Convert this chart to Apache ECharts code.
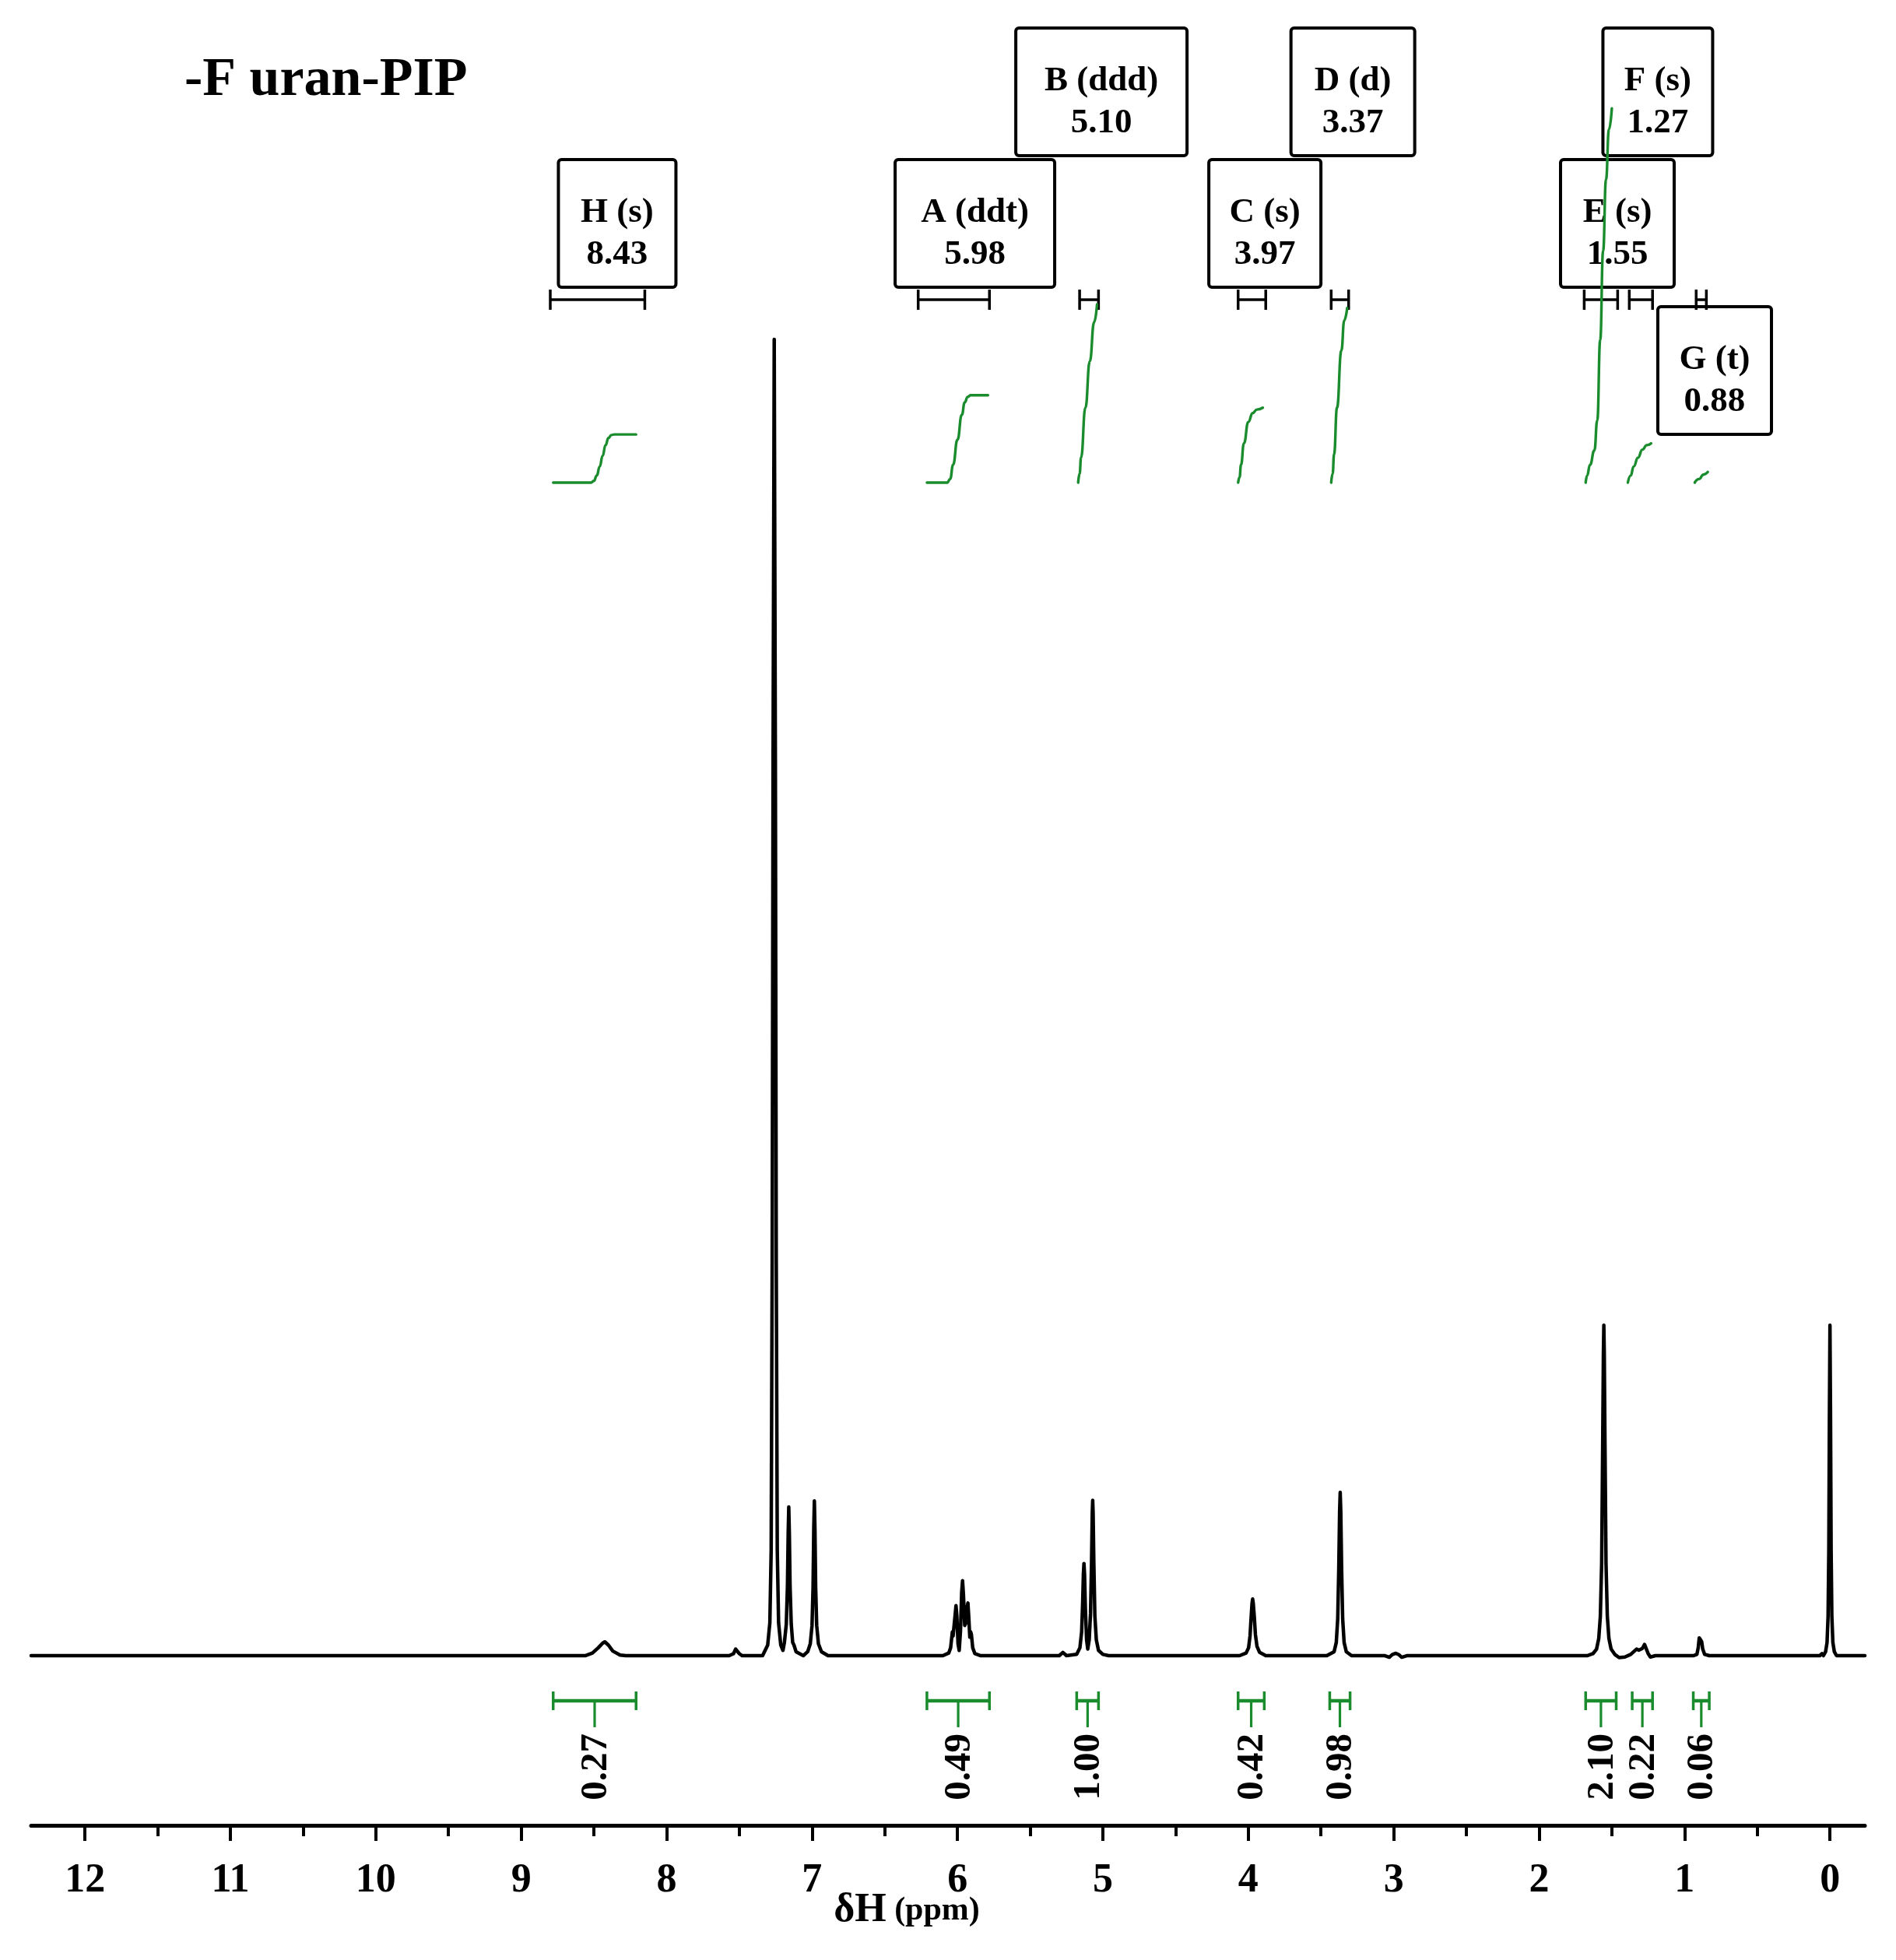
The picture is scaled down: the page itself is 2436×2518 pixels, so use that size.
<!DOCTYPE html>
<html>
<head>
<meta charset="utf-8">
<script src="https://cdn.jsdelivr.net/npm/echarts@6/dist/echarts.min.js"></script>
<style>
html,body{margin:0;padding:0;background:#fff;}
#chart{width:2436px;height:2518px;}
</style>
</head>
<body>
<div id="chart"></div>
<script>
// ---------- DATA ----------
const tickLabels = [0,1,2,3,4,5,6,7,8,9,10,11,12];
const minorTicks = [0.5,1.5,2.5,3.5,4.5,5.5,6.5,7.5,8.5,9.5,10.5,11.5];

// 1H spectrum: [ppm, intensity] (7.26 peak = 100)
const spectrum = [
[12.37,0],[8.56,0],[8.51,0.2],[8.47,0.6],[8.44,0.95],[8.425,1.05],[8.40,0.8],[8.37,0.35],[8.32,0.05],[8.28,0],
[7.57,0],[7.54,0.15],[7.525,0.5],[7.515,0.55],[7.50,0.15],[7.48,0],
[7.34,0],[7.305,0.8],[7.29,2.5],[7.281,8],[7.274,30],[7.268,68],[7.26,100],[7.252,68],[7.246,30],[7.239,8],[7.23,2.5],[7.215,0.8],[7.2,0.4],
[7.19,1.0],[7.177,2.4],[7.169,5.3],[7.164,9.3],[7.16,11.3],[7.156,9.3],[7.151,5.3],[7.143,2.4],[7.133,1.0],[7.124,0.8],[7.11,0.3],[7.06,0],
[7.03,0.3],[7.012,0.9],[7.0,2.3],[6.993,5.2],[6.988,9.7],[6.984,11.75],[6.98,9.7],[6.975,5.2],[6.968,2.3],[6.956,0.9],[6.935,0.3],[6.89,0],
[6.10,0],[6.06,0.2],[6.047,0.6],[6.04,1.3],[6.035,1.8],[6.03,1.5],[6.024,1.6],[6.016,3.1],[6.01,3.8],[6.004,3.0],[5.996,0.9],[5.988,0.4],[5.979,1.9],[5.971,4.8],[5.965,5.7],[5.959,4.7],[5.95,2.3],[5.941,2.5],[5.933,3.7],[5.928,4.0],[5.922,2.9],[5.915,1.4],[5.909,1.8],[5.904,1.6],[5.895,0.6],[5.88,0.15],[5.84,0],
[5.30,0],[5.275,0.25],[5.25,0],[5.18,0.1],[5.158,0.6],[5.146,1.8],[5.139,4.0],[5.134,6.2],[5.13,7.0],[5.126,6.2],[5.12,3.5],[5.112,1.2],[5.104,0.5],[5.094,1.2],[5.085,3.2],[5.078,7.0],[5.073,10.8],[5.07,11.8],[5.067,10.8],[5.062,7.0],[5.055,3.0],[5.045,1.2],[5.03,0.4],[5.0,0.1],[4.96,0],
[4.06,0],[4.015,0.2],[3.998,0.6],[3.988,1.5],[3.98,3.0],[3.974,4.0],[3.97,4.3],[3.966,4.0],[3.959,3.0],[3.951,1.6],[3.94,0.7],[3.922,0.25],[3.88,0],
[3.46,0],[3.41,0.3],[3.395,1.0],[3.385,2.8],[3.378,6.5],[3.372,11],[3.368,12.4],[3.364,11],[3.358,6.5],[3.351,2.8],[3.341,1.0],[3.326,0.3],[3.29,0],
[3.06,0],[3.03,-0.12],[3.01,0.08],[2.985,0.18],[2.965,0.08],[2.945,-0.12],[2.91,0],
[1.67,0],[1.63,0.15],[1.605,0.5],[1.59,1.3],[1.579,3.0],[1.57,7],[1.563,16],[1.558,23],[1.555,25.1],[1.552,23],[1.547,16],[1.54,7],[1.531,3.0],[1.52,1.3],[1.505,0.5],[1.48,0.1],[1.45,-0.15],[1.41,-0.1],
[1.37,0.1],[1.345,0.35],[1.33,0.5],[1.315,0.42],[1.29,0.55],[1.275,0.85],[1.266,0.8],[1.25,0.15],[1.235,-0.1],[1.20,0],
[0.94,0],[0.915,0.1],[0.906,0.6],[0.899,1.35],[0.895,1.46],[0.889,1.2],[0.882,1.05],[0.875,0.5],[0.862,0.1],[0.83,0],
[0.07,0],[0.055,0.15],[0.045,0],[0.03,0.3],[0.02,1.0],[0.013,3],[0.008,8],[0.004,18],[0,25.1],[-0.004,18],[-0.008,8],[-0.013,3],[-0.02,1.0],[-0.03,0.3],[-0.045,0],[-0.24,0]
];

// integral curves: [ppm, cumulative integral]
const intH = [[8.78,0],[8.52,0],[8.50,0.01],[8.48,0.04],[8.46,0.09],[8.44,0.15],[8.42,0.21],[8.40,0.25],[8.38,0.267],[8.36,0.27],[8.21,0.27]];
const intA = [[6.21,0],[6.07,0],[6.05,0.02],[6.03,0.1],[6.00,0.24],[5.97,0.38],[5.95,0.45],[5.93,0.48],[5.91,0.49],[5.79,0.49]];
const intB = [[5.17,0],[5.16,0.05],[5.15,0.14],[5.12,0.42],[5.09,0.68],[5.06,0.9],[5.04,1.0]];
const intC = [[4.07,0],[4.06,0.03],[4.05,0.1],[4.03,0.22],[4.0,0.34],[3.97,0.39],[3.94,0.41],[3.90,0.42]];
const intD = [[3.43,0],[3.42,0.05],[3.41,0.16],[3.39,0.42],[3.36,0.74],[3.34,0.91],[3.32,0.98]];
const intE = [[1.68,0],[1.67,0.04],[1.65,0.1],[1.62,0.18],[1.60,0.35],[1.58,0.8],[1.56,1.3],[1.54,1.7],[1.52,1.98],[1.50,2.1]];
const intF = [[1.39,0],[1.37,0.04],[1.35,0.09],[1.32,0.14],[1.29,0.185],[1.26,0.21],[1.23,0.22]];
const intG = [[0.93,0],[0.90,0.02],[0.87,0.045],[0.84,0.06]];

// integration ranges (ppm) and values
const topRanges = [[8.80,8.15],[6.27,5.78],[5.16,5.03],[4.07,3.88],[3.43,3.31],[1.69,1.46],[1.38,1.22],[0.92,0.85]];
const botRanges = [[8.78,8.21],[6.21,5.78],[5.18,5.03],[4.07,3.89],[3.44,3.30],[1.68,1.47],[1.36,1.22],[0.94,0.83]];
const intValues = [0.27,0.49,1.00,0.42,0.98,2.10,0.22,0.06];

// peak annotation boxes
const boxLetters = ['H','A','B','C','D','E','F','G'];
const boxMult = ['s','ddt','ddd','s','d','s','s','t'];
const boxShift = ['8.43','5.98','5.10','3.97','3.37','1.55','1.27','0.88'];

// ---------- LAYOUT (not data) ----------
const boxCenterPpm = [8.34,5.88,5.01,3.886,3.281,1.462,1.184,0.793];
const boxRowY = [1.454,1.454,2.192,1.454,2.192,1.454,2.192,0.629];
const boxWidthPx = [151,205,220,144,159,146,141,146];
const BOX_H = 164;
const TOP_BRACKET_Y = 1.026;
const BOT_BAR_Y = -6.834;
const GREEN = '#1a8c2e';
const FONT = '"Liberation Serif", "Times New Roman", serif';

const chart = echarts.init(document.getElementById('chart'), null, {renderer:'canvas'});

function intSeries(d){
  return {type:'line', xAxisIndex:0, yAxisIndex:1, data:d, showSymbol:false, symbol:'none',
    smooth:0.5, smoothMonotone:'x', z:5, silent:true,
    lineStyle:{color:GREEN, width:3.4, cap:'round', join:'round'}};
}

const option = {
  animation:false,
  backgroundColor:'#fff',
  grid:{left:40, right:40, top:30, bottom:173, containLabel:false, outerBoundsMode:'none'},
  xAxis:[
    {type:'value', gridIndex:0, min:-0.24, max:12.37, inverse:true, position:'bottom',
     axisLine:{show:true, onZero:false, lineStyle:{color:'#000', width:5}},
     axisTick:{show:true, customValues:tickLabels, length:20, lineStyle:{color:'#000', width:4}},
     axisLabel:{show:true, customValues:tickLabels, margin:46, color:'#000', fontSize:52, fontWeight:'bold', fontFamily:FONT},
     splitLine:{show:false}},
    {type:'value', gridIndex:0, min:-0.24, max:12.37, inverse:true, position:'bottom',
     axisLine:{show:false, onZero:false},
     axisTick:{show:true, customValues:minorTicks, length:14, lineStyle:{color:'#000', width:4}},
     axisLabel:{show:false}, splitLine:{show:false}}
  ],
  yAxis:[
    {type:'value', gridIndex:0, min:-12.89, max:124.01, show:false, splitLine:{show:false}},
    {type:'value', gridIndex:0, min:-7.5328, max:2.5764, show:false, splitLine:{show:false}}
  ],
  series:[
    {type:'line', name:'spectrum', xAxisIndex:0, yAxisIndex:0, data:spectrum, showSymbol:false, symbol:'none',
     smooth:false, z:4, silent:true, lineStyle:{color:'#000', width:4.5, join:'round', cap:'round'}},
    intSeries(intH), intSeries(intA), intSeries(intB), intSeries(intC),
    intSeries(intD), intSeries(intE), intSeries(intF), intSeries(intG),
    // annotation boxes
    {type:'custom', xAxisIndex:0, yAxisIndex:1, z:1, silent:true,
     data: boxLetters.map((l,i)=>[boxCenterPpm[i], boxRowY[i], i]),
     encode:{x:0, y:1},
     renderItem:function(params, api){
       const i = api.value(2);
       const c = api.coord([api.value(0), api.value(1)]);
       const w = boxWidthPx[i];
       return {type:'group', children:[
         {type:'rect', shape:{x:c[0]-w/2, y:c[1]-BOX_H/2, width:w, height:BOX_H, r:4},
          style:{fill:'#fff', stroke:'#000', lineWidth:4}},
         {type:'text', x:c[0], y:c[1]-14, style:{text:boxLetters[i]+' ('+boxMult[i]+')', align:'center', verticalAlign:'middle',
          fill:'#000', font:'bold 45px '+FONT}},
         {type:'text', x:c[0], y:c[1]+40, style:{text:boxShift[i], align:'center', verticalAlign:'middle',
          fill:'#000', font:'bold 45px '+FONT}}
       ]};
     }},
    // top black integration brackets
    {type:'custom', xAxisIndex:0, yAxisIndex:1, z:3, silent:true,
     data: topRanges.map(r=>[r[0], r[1], TOP_BRACKET_Y]),
     encode:{x:[0,1], y:2},
     renderItem:function(params, api){
       const a = api.coord([api.value(0), api.value(2)]);
       const b = api.coord([api.value(1), api.value(2)]);
       const cap = 13;
       const st = {stroke:'#000', lineWidth:3.5};
       return {type:'group', children:[
         {type:'line', shape:{x1:a[0], y1:a[1], x2:b[0], y2:b[1]}, style:st},
         {type:'line', shape:{x1:a[0], y1:a[1]-cap, x2:a[0], y2:a[1]+cap}, style:st},
         {type:'line', shape:{x1:b[0], y1:b[1]-cap, x2:b[0], y2:b[1]+cap}, style:st}
       ]};
     }},
    // bottom green integration bars with values
    {type:'custom', xAxisIndex:0, yAxisIndex:1, z:3, silent:true,
     data: botRanges.map((r,i)=>[r[0], r[1], BOT_BAR_Y, intValues[i]]),
     encode:{x:[0,1], y:2},
     renderItem:function(params, api){
       const a = api.coord([api.value(0), api.value(2)]);
       const b = api.coord([api.value(1), api.value(2)]);
       const cx = (a[0]+b[0])/2;
       const cap = 12;
       const st = {stroke:GREEN, lineWidth:4.5};
       const stemEnd = a[1]+34;
       return {type:'group', children:[
         {type:'line', shape:{x1:a[0], y1:a[1], x2:b[0], y2:b[1]}, style:st},
         {type:'line', shape:{x1:a[0], y1:a[1]-cap, x2:a[0], y2:a[1]+cap}, style:{stroke:GREEN, lineWidth:3.5}},
         {type:'line', shape:{x1:b[0], y1:b[1]-cap, x2:b[0], y2:b[1]+cap}, style:{stroke:GREEN, lineWidth:3.5}},
         {type:'line', shape:{x1:cx, y1:a[1], x2:cx, y2:stemEnd}, style:{stroke:GREEN, lineWidth:3.2}},
         {type:'text', x:cx+2, y:stemEnd+8, rotation:Math.PI/2,
          style:{text:Number(api.value(3)).toFixed(2), align:'right', verticalAlign:'middle',
                 fill:'#000', font:'bold 49px '+FONT}}
       ]};
     }}
  ],
  graphic:[
    {type:'text', x:237, y:104, z:10, style:{text:'-F uran-PIP', align:'left', verticalAlign:'middle', fill:'#000', font:'bold 70px '+FONT}},
    {type:'text', x:1165, y:2455, z:10, style:{text:'{a|δH}{b| (ppm)}', align:'center', verticalAlign:'middle', fill:'#000',
      rich:{a:{fontSize:52, fontWeight:'bold', fontFamily:FONT, fill:'#000'}, b:{fontSize:42, fontWeight:'bold', fontFamily:FONT, fill:'#000'}}}}
  ]
};
chart.setOption(option);
</script>
</body>
</html>
